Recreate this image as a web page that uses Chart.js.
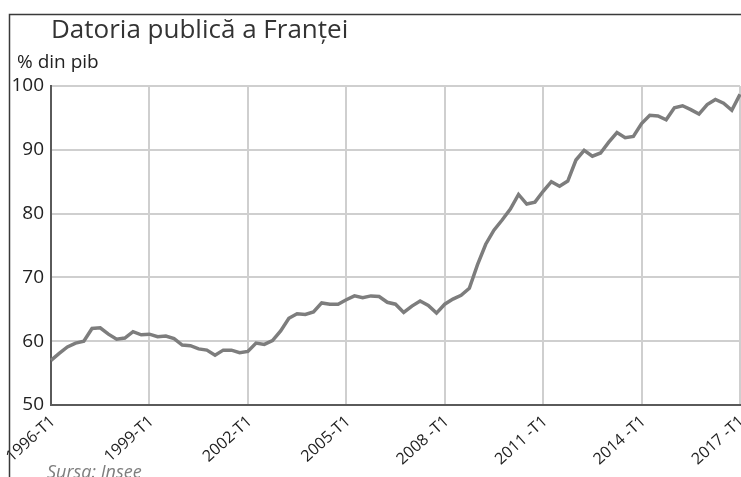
<!DOCTYPE html>
<html>
<head>
<meta charset="utf-8">
<script src="https://cdn.jsdelivr.net/npm/chart.js@4.4.0/dist/chart.umd.min.js"></script>
<style>
html, body { margin: 0; padding: 0; background: #fff; overflow: hidden; }
#wrap { position: relative; width: 741px; height: 477px; }
</style>
</head>
<body>
<div id="wrap"><canvas id="debtChart" width="741" height="477"></canvas></div>
<script>
// quarters 1996-T1 .. 2017-T1
var firstYear = 1996;
var lastYear = 2017;
var quarters = [];
for (var y = firstYear; y <= lastYear; y++) {
  for (var q = 1; q <= 4; q++) {
    if (y === lastYear && q > 1) break;
    quarters.push(y + '-T' + q);
  }
}

var tickLabels = ["1996-T1", "1999-T1", "2002-T1", "2005-T1", "2008 -T1", "2011 -T1", "2014 -T1", "2017 -T1"];

// public debt, % of GDP
var debt = [
  57.0, 58.1, 59.1, 59.7,   // 1996
  60.0, 62.0, 62.1, 61.1,   // 1997
  60.3, 60.5, 61.5, 61.0,   // 1998
  61.1, 60.7, 60.8, 60.4,   // 1999
  59.4, 59.3, 58.8, 58.6,   // 2000
  57.8, 58.6, 58.6, 58.2,   // 2001
  58.4, 59.7, 59.5, 60.1,   // 2002
  61.6, 63.6, 64.3, 64.2,   // 2003
  64.6, 66.0, 65.8, 65.8,   // 2004
  66.5, 67.1, 66.8, 67.1,   // 2005
  67.0, 66.1, 65.8, 64.5,   // 2006
  65.5, 66.3, 65.6, 64.4,   // 2007
  65.8, 66.6, 67.2, 68.3,   // 2008
  72.0, 75.2, 77.4, 79.0,   // 2009
  80.7, 83.0, 81.5, 81.8,   // 2010
  83.5, 85.0, 84.3, 85.1,   // 2011
  88.4, 89.9, 89.0, 89.5,   // 2012
  91.2, 92.7, 91.9, 92.1,   // 2013
  94.1, 95.4, 95.3, 94.7,   // 2014
  96.6, 96.9, 96.3, 95.6,   // 2015
  97.1, 97.9, 97.3, 96.2,   // 2016
  98.7                      // 2017-T1
];

var titleText = 'Datoria publică a Franței';
var unitText = '% din pib';
var sourceText = 'Sursa: Insee';

var frameText = {
  id: 'frameText',
  afterDraw: function(chart) {
    var c = chart.ctx;
    c.save();
    c.strokeStyle = '#3a3a3a';
    c.lineWidth = 1.5;
    c.beginPath();
    c.moveTo(9.5, 477);
    c.lineTo(9.5, 14.5);
    c.lineTo(741, 14.5);
    c.stroke();
    c.textBaseline = 'alphabetic';
    c.textAlign = 'left';
    c.fillStyle = '#333';
    c.font = '26px "Open Sans"';
    c.fillText(titleText, 51, 38);
    c.fillStyle = '#222';
    c.font = '19px "Open Sans"';
    c.fillText(unitText, 17, 68);
    c.fillStyle = '#7e7e7e';
    c.font = 'italic 18px "Open Sans"';
    c.fillText(sourceText, 47, 478);
    c.restore();
  }
};

var ctx = document.getElementById('debtChart').getContext('2d');
var debtChart = new Chart(ctx, {
  type: 'line',
  data: {
    labels: quarters,
    datasets: [{
      label: 'Datoria publică',
      data: debt,
      borderColor: '#7d7d7d',
      borderWidth: 3.5,
      pointRadius: 0,
      tension: 0,
      fill: false
    }]
  },
  options: {
    responsive: false,
    animation: false,
    layout: { padding: { top: 86, right: 1, left: 0, bottom: 0 } },
    plugins: {
      legend: { display: false },
      tooltip: { enabled: false }
    },
    scales: {
      x: {
        grid: {
          color: function(c) { return c.index % 12 === 0 ? '#cfcfcf' : 'rgba(0,0,0,0)'; },
          lineWidth: 2,
          drawTicks: false
        },
        border: { color: '#5a5a5a', width: 2 },
        ticks: {
          autoSkip: false,
          minRotation: 42,
          maxRotation: 42,
          padding: 7,
          labelOffset: 2,
          color: '#222',
          font: { family: 'Open Sans', size: 16 },
          callback: function(value, index) {
            return index % 12 === 0 ? tickLabels[index / 12] : '';
          }
        },
        afterFit: function(s) { s.height = 72; s.paddingLeft = 0; s.paddingRight = 0; }
      },
      y: {
        min: 50,
        max: 100,
        ticks: {
          stepSize: 10,
          color: '#222',
          padding: 7,
          font: { family: 'Open Sans', size: 19 }
        },
        grid: { color: '#cfcfcf', lineWidth: 2, drawTicks: false },
        border: { color: '#5a5a5a', width: 2 },
        afterFit: function(s) { s.width = 51; s.paddingTop = 0; s.paddingBottom = 0; }
      }
    }
  },
  plugins: [frameText]
});
</script>
</body>
</html>
